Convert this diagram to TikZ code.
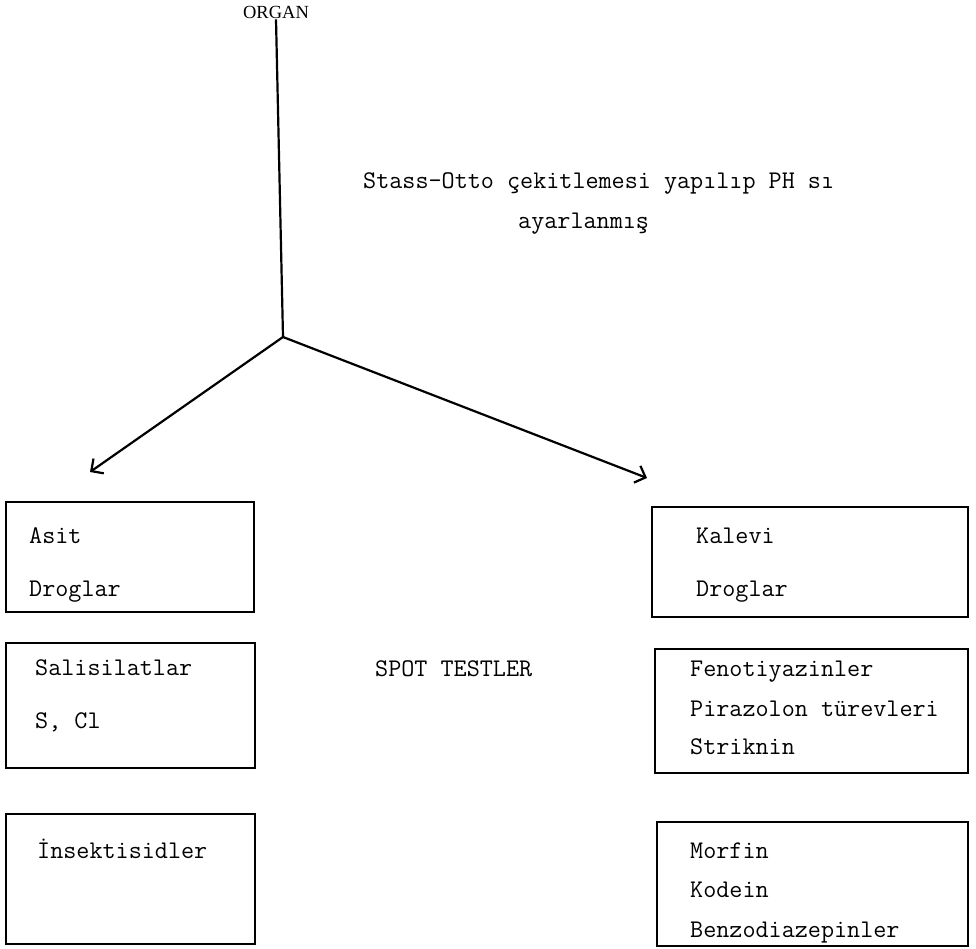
\documentclass[tikz,border=0pt]{standalone}
\usepackage{fontspec}
\newfontfamily\orgfont{Liberation Serif}
\usetikzlibrary{arrows.meta}
\begin{document}
\begin{tikzpicture}[x=1pt,y=-1pt,
  box/.style={draw, line width=2pt, inner sep=0pt},
  txt/.style={anchor=base west, inner sep=0pt, font=\ttfamily\fontsize{25.4}{27}\selectfont},
  conn/.style={line width=2.2pt},
  arr/.style={conn, -{Straight Barb[length=9pt,width=18pt,line width=2.2pt]}}]
\useasboundingbox (0,0) rectangle (976,949);

% title and connectors
\node[font=\orgfont\fontsize{18.5}{20}\selectfont, inner sep=1pt] (organ) at (276,12) {ORGAN};
\coordinate (j) at (283,337);
\coordinate (lt) at (90,472);
\coordinate (rt) at (647,478);
\draw[conn] (organ.south) -- (j);
\draw[arr] (j) -- (lt);
\draw[arr] (j) -- (rt);

\node[txt] (s1) at (363,189) {Stass-Otto çekitlemesi yapılıp PH sı};
\node[txt] (s2) at (518,229) {ayarlanmış};

% boxes
\node[box, minimum width=248, minimum height=110] (L1) at (130,557) {};
\node[box, minimum width=249, minimum height=125] (L2) at (130.5,705.5) {};
\node[box, minimum width=249, minimum height=130] (L3) at (130.5,879) {};
\node[box, minimum width=316, minimum height=110] (R1) at (810,562) {};
\node[box, minimum width=313, minimum height=124] (R2) at (811.5,711) {};
\node[box, minimum width=311, minimum height=124] (R3) at (812.5,884) {};

% texts
\node[txt] (t1) at (29,543) {Asit};
\node[txt] (t2) at (29,596) {Droglar};
\node[txt] (t3) at (35,675) {Salisilatlar};
\node[txt] (t4) at (35,728) {S, Cl};
\node[txt] (t5) at (37,858) {İnsektisidler};
\node[txt] (t6) at (696,543) {Kalevi};
\node[txt] (t7) at (696,596) {Droglar};
\node[txt] (t8) at (690,676) {Fenotiyazinler};
\node[txt] (t9) at (690,716) {Pirazolon türevleri};
\node[txt] (t10) at (690,754) {Striknin};
\node[txt] (t11) at (690,858) {Morfin};
\node[txt] (t12) at (690,897) {Kodein};
\node[txt] (t13) at (690,937) {Benzodiazepinler};
\node[txt] (spot) at (375,676) {SPOT TESTLER};
\end{tikzpicture}
\end{document}
